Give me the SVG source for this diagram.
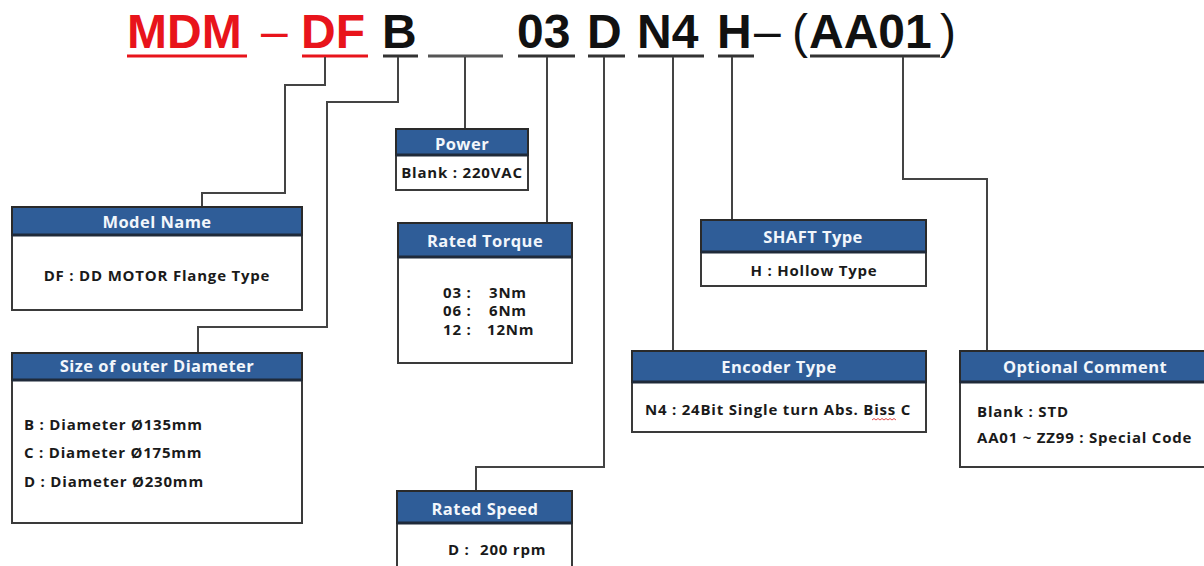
<svg xmlns="http://www.w3.org/2000/svg" width="1204" height="566" viewBox="0 0 1204 566">
<style>
.code{font-family:"Liberation Sans",Arial,sans-serif;font-weight:bold;font-size:48px;fill:#111}
.red{fill:#e8141b}
.ul{stroke-width:3;fill:none}
.box{fill:#fff;stroke:#3a3a3a;stroke-width:2}
.hdr{fill:#2f5d98;stroke:#2a2a2a;stroke-width:2}
.hl{stroke:#1f2a3a;stroke-width:3}
.ht{font-family:"Open Sans","Noto Sans",sans-serif;font-weight:bold;font-size:16.5px;letter-spacing:0.45px;fill:#f2f6fb;text-anchor:middle}
.bt{font-family:"Open Sans","Noto Sans",sans-serif;font-weight:bold;font-size:15px;letter-spacing:0.8px;fill:#1a1a1a}
.c{text-anchor:middle}
.con{fill:none;stroke:#444;stroke-width:2}
</style>
<rect width="1204" height="566" fill="#fff"/>
<g id="code">
<text class="code red" x="127" y="48">MDM</text>
<text class="code red" x="261" y="48" style="font-weight:normal">–</text>
<text class="code red" x="301" y="48">DF</text>
<text class="code" x="382" y="48">B</text>
<text class="code" x="517" y="48">03</text>
<text class="code" x="587" y="48">D</text>
<text class="code" x="637" y="48">N4</text>
<text class="code" x="717" y="48">H</text>
<text class="code" x="754" y="48" style="font-weight:normal">–</text>
<text class="code" x="792" y="48" style="font-weight:normal">(</text>
<text class="code" x="809" y="48">AA01</text>
<text class="code" x="940" y="48" style="font-weight:normal">)</text>
<line class="ul" stroke="#e8141b" x1="127" y1="56" x2="247" y2="56"/>
<line class="ul" stroke="#e8141b" x1="302" y1="56" x2="368" y2="56"/>
<line class="ul" stroke="#333" x1="383" y1="56" x2="418" y2="56"/>
<line class="ul" stroke="#555" x1="428" y1="56" x2="503" y2="56"/>
<line class="ul" stroke="#333" x1="518" y1="56" x2="575" y2="56"/>
<line class="ul" stroke="#333" x1="588" y1="56" x2="625" y2="56"/>
<line class="ul" stroke="#333" x1="638" y1="56" x2="704" y2="56"/>
<line class="ul" stroke="#333" x1="718" y1="56" x2="754" y2="56"/>
<line class="ul" stroke="#333" x1="810" y1="56" x2="940" y2="56"/>
</g>
<g id="connectors">
<polyline class="con" points="325,57 325,85 285,85 285,193 202,193 202,207"/>
<polyline class="con" points="398,57 398,102 327,102 327,327 198,327 198,353"/>
<polyline class="con" points="465,57 465,129"/>
<polyline class="con" points="547,57 547,223"/>
<polyline class="con" points="604,57 604,467 476,467 476,491"/>
<polyline class="con" points="673,57 673,351"/>
<polyline class="con" points="732,57 732,220"/>
<polyline class="con" points="903,57 903,179 987,179 987,351"/>
</g>
<g id="model-name">
<rect class="box" x="12" y="207" width="290" height="103"/>
<rect class="hdr" x="12" y="207" width="290" height="28"/>
<line class="hl" x1="12" y1="235" x2="302" y2="235"/>
<text class="ht" x="157" y="228">Model Name</text>
<text class="bt c" x="157" y="281">DF : DD MOTOR Flange Type</text>
</g>
<g id="size-diameter">
<rect class="box" x="12" y="353" width="290" height="170"/>
<rect class="hdr" x="12" y="353" width="290" height="27"/>
<line class="hl" x1="12" y1="380" x2="302" y2="380"/>
<text class="ht" x="157" y="372">Size of outer Diameter</text>
<text class="bt" x="24" y="430">B : Diameter Ø135mm</text>
<text class="bt" x="24" y="458">C : Diameter Ø175mm</text>
<text class="bt" x="24" y="487">D : Diameter Ø230mm</text>
</g>
<g id="power">
<rect class="box" x="396" y="129" width="132" height="61"/>
<rect class="hdr" x="396" y="129" width="132" height="26"/>
<line class="hl" x1="396" y1="155" x2="528" y2="155"/>
<text class="ht" x="462" y="150">Power</text>
<text class="bt c" x="462" y="178">Blank : 220VAC</text>
</g>
<g id="rated-torque">
<rect class="box" x="398" y="223" width="174" height="140"/>
<rect class="hdr" x="398" y="223" width="174" height="34"/>
<line class="hl" x1="398" y1="257" x2="572" y2="257"/>
<text class="ht" x="485" y="247">Rated Torque</text>
<text class="bt" x="443" y="298">03 :</text>
<text class="bt" x="489" y="298">3Nm</text>
<text class="bt" x="443" y="316">06 :</text>
<text class="bt" x="489" y="316">6Nm</text>
<text class="bt" x="443" y="335">12 :</text>
<text class="bt" x="487" y="335">12Nm</text>
</g>
<g id="rated-speed">
<rect class="box" x="397" y="491" width="175" height="90"/>
<rect class="hdr" x="397" y="491" width="175" height="32"/>
<line class="hl" x1="397" y1="523" x2="572" y2="523"/>
<text class="ht" x="485" y="515">Rated Speed</text>
<text class="bt" x="448" y="555">D :</text>
<text class="bt" x="480" y="555">200 rpm</text>
</g>
<g id="shaft-type">
<rect class="box" x="701" y="220" width="225" height="66"/>
<rect class="hdr" x="701" y="220" width="225" height="32"/>
<line class="hl" x1="701" y1="252" x2="926" y2="252"/>
<text class="ht" x="813" y="243">SHAFT Type</text>
<text class="bt c" x="814" y="276">H : Hollow Type</text>
</g>
<g id="encoder-type">
<rect class="box" x="632" y="351" width="294" height="81"/>
<rect class="hdr" x="632" y="351" width="294" height="31"/>
<line class="hl" x1="632" y1="382" x2="926" y2="382"/>
<text class="ht" x="779" y="373">Encoder Type</text>
<text class="bt c" x="778" y="415">N4 : 24Bit Single turn Abs. Biss C</text>
<path d="M872,420 l2,-1.5 2,1.5 2,-1.5 2,1.5 2,-1.5 2,1.5 2,-1.5 2,1.5 2,-1.5 2,1.5 2,-1.5 2,1.5" fill="none" stroke="#e05050" stroke-width="1"/>
</g>
<g id="optional-comment">
<rect class="box" x="960" y="351" width="260" height="116"/>
<rect class="hdr" x="960" y="351" width="260" height="31"/>
<line class="hl" x1="960" y1="382" x2="1220" y2="382"/>
<text class="ht" x="1085" y="373">Optional Comment</text>
<text class="bt" x="977" y="417">Blank : STD</text>
<text class="bt" x="977" y="443">AA01 ~ ZZ99 : Special Code</text>
</g>
</svg>
